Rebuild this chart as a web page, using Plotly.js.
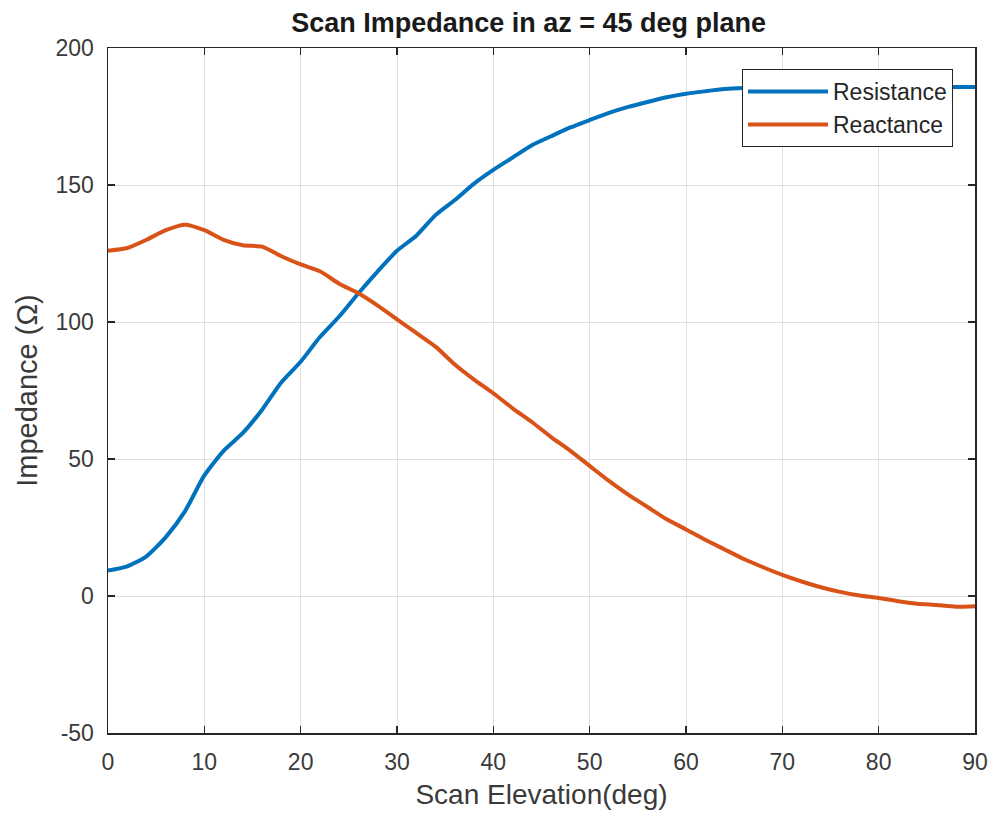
<!DOCTYPE html>
<html>
<head>
<meta charset="utf-8">
<script src="https://cdn.plot.ly/plotly-3.0.1.min.js"></script>
<style>html,body{margin:0;padding:0;background:#fff;}#chart{width:995px;height:821px;}</style>
</head>
<body>
<div id="chart"></div>
<script>
const elevation = [0,2,4,6,8,10,12,14,16,18,20,22,24,26,28,30,32,34,36,38,40,42,44,46,48,50,52,54,56,58,60,62,64,66,68,70,72,74,76,78,80,82,84,86,88,90];
const resistance = [9.3,10.8,14.5,21.5,31,44,53,59.5,68,78,85.5,94.5,102,110.5,118.5,126,131.5,139,144.5,150.5,155.5,160,164.5,167.8,171,173.7,176.3,178.5,180.3,182,183.3,184.2,185,185.4,185.6,185.7,185.7,185.7,185.7,185.7,185.7,185.7,185.7,185.7,185.8,185.8];
const reactance = [126,127,130,133.5,135.5,133.5,130,128,127.5,124,121,118.5,114,110.5,106,101,96,91,84.5,79,74,68.5,63.5,58,53,47.5,42,37,32.5,28,24.3,20.5,17,13.5,10.5,7.7,5.3,3.2,1.5,0.2,-0.7,-1.9,-2.8,-3.3,-3.9,-3.7];
const seriesNames = ['Resistance','Reactance'];
const xTicks = [0,10,20,30,40,50,60,70,80,90];
const yTicks = [-50,0,50,100,150,200];

const font = 'Liberation Sans, Arial, sans-serif';
const traces = [
  {x: elevation, y: resistance, name: seriesNames[0], mode: 'lines', line: {color: '#0072BD', width: 4, shape: 'spline', smoothing: 0.6}},
  {x: elevation, y: reactance, name: seriesNames[1], mode: 'lines', line: {color: '#D95319', width: 4, shape: 'spline', smoothing: 0.6}}
];
const axisCommon = {
  showline: true, linecolor: '#262626', linewidth: 1.5, mirror: 'ticks',
  ticks: 'inside', ticklen: 7, tickcolor: '#262626', tickwidth: 1.5,
  showgrid: true, gridcolor: '#e0e0e0', gridwidth: 1, zeroline: false,
  tickfont: {family: font, size: 23, color: '#3a3a3a'}
};
const layout = {
  width: 995, height: 821,
  margin: {l: 108, r: 20, t: 48, b: 88},
  paper_bgcolor: '#ffffff', plot_bgcolor: '#ffffff',
  title: {text: '<b>Scan Impedance in az = 45 deg plane</b>', x: 0.5313, xanchor: 'center', y: 0.973, yanchor: 'middle', font: {family: font, size: 27, color: '#1a1a1a'}},
  xaxis: Object.assign({}, axisCommon, {range: [0, 90], tickvals: xTicks, ticktext: xTicks.map(String), ticklabelstandoff: 8, title: {text: 'Scan Elevation(deg)', font: {family: font, size: 28, color: '#3a3a3a'}, standoff: 10}}),
  yaxis: Object.assign({}, axisCommon, {range: [-50, 200], tickvals: yTicks, ticktext: yTicks.map(String), ticklabelstandoff: 8, title: {text: 'Impedance (Ω)', font: {family: font, size: 29, color: '#3a3a3a'}, standoff: 9}}),
  legend: {x: 0.9746, xanchor: 'right', y: 0.9693, yanchor: 'top', bgcolor: '#ffffff', bordercolor: '#262626', borderwidth: 1, font: {family: font, size: 23, color: '#262626'}, itemwidth: 80, tracegroupgap: 0},
  showlegend: true
};
Plotly.newPlot('chart', traces, layout, {displayModeBar: false, staticPlot: true});
</script>
</body>
</html>
